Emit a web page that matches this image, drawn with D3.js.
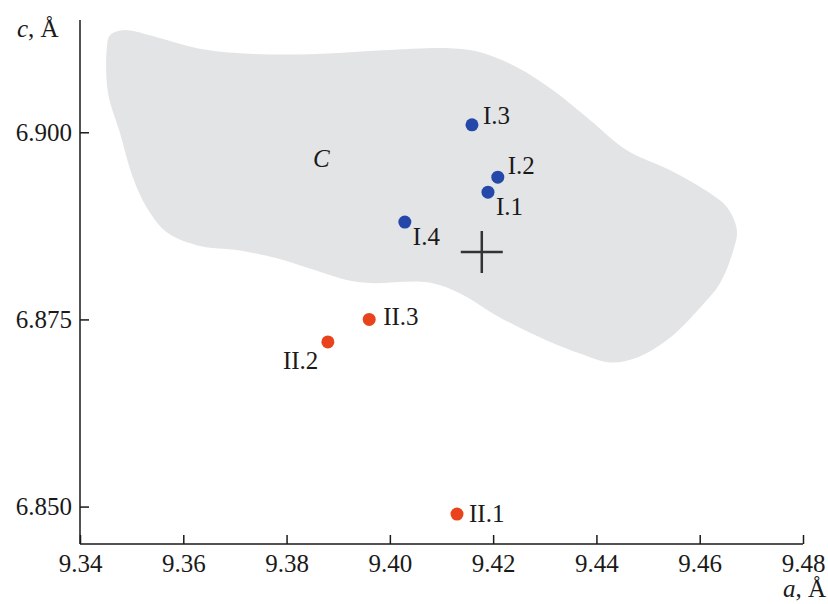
<!DOCTYPE html>
<html><head><meta charset="utf-8">
<script src="https://cdn.jsdelivr.net/npm/d3@7"></script>
<style>
body{margin:0;background:#fff;}
text{font-family:"Liberation Serif","Times New Roman",serif;fill:#1a1a1a;}
</style></head>
<body><svg id="c" width="828" height="604"></svg>
<script>
// ---- data ----
const xTicks = [9.34, 9.36, 9.38, 9.40, 9.42, 9.44, 9.46, 9.48];
const yTicks = [6.850, 6.875, 6.900];
const seriesI = [
  {name: "I.1", a: 9.4190, c: 6.8920},
  {name: "I.2", a: 9.4209, c: 6.8940},
  {name: "I.3", a: 9.4159, c: 6.9010},
  {name: "I.4", a: 9.4029, c: 6.8880}
];
const seriesII = [
  {name: "II.1", a: 9.4130, c: 6.8490},
  {name: "II.2", a: 9.3880, c: 6.8720},
  {name: "II.3", a: 9.3960, c: 6.8750}
];
const crossPoint = {a: 9.4178, c: 6.8840};
const regionC = [
  [9.3458,6.91297],[9.3483,6.91364],[9.3549,6.91270],[9.3627,6.91123],[9.3710,6.91056],
  [9.3845,6.91043],[9.3987,6.91096],[9.4116,6.91123],[9.4175,6.91070],[9.4246,6.90869],
  [9.4316,6.90561],[9.4388,6.90160],[9.4459,6.89759],[9.4543,6.89492],[9.4620,6.89184],
  [9.4653,6.88997],[9.4672,6.88690],[9.4665,6.88422],[9.4639,6.87981],[9.4601,6.87660],
  [9.4543,6.87259],[9.4479,6.86992],[9.4426,6.86925],[9.4368,6.87045],[9.4304,6.87219],
  [9.4213,6.87527],[9.4136,6.87848],[9.4072,6.87995],[9.3942,6.87995],[9.3845,6.88182],
  [9.3781,6.88316],[9.3710,6.88422],[9.3627,6.88489],[9.3568,6.88663],[9.3530,6.88984],
  [9.3503,6.89385],[9.3477,6.90000],[9.3454,6.90535],[9.3452,6.91123]
];
const regionLabel = {name: "C", a: 9.3851, c: 6.8961};

// ---- layout / style ----
const labelOffset = {
  "I.1": [8, 23], "I.2": [10, -3], "I.3": [11, -1], "I.4": [8, 23],
  "II.1": [12, 8], "II.2": [-45, 27], "II.3": [14, 6]
};
const svg = d3.select("#c");
const x = d3.scaleLinear().domain([9.34, 9.48]).range([80, 803]);
const y = d3.scaleLinear().domain([6.845, 6.915]).range([544, 20]);

// region
svg.append("path")
  .attr("d", d3.line().x(d => x(d[0])).y(d => y(d[1])).curve(d3.curveCatmullRomClosed.alpha(0.5))(regionC))
  .attr("fill", "#e3e4e6");

svg.append("text").attr("x", x(regionLabel.a)).attr("y", y(regionLabel.c) + 6)
  .attr("font-size", 25).attr("font-style", "italic").text(regionLabel.name);

// axes
const xAxis = d3.axisBottom(x).tickValues(xTicks).tickSize(-9).tickPadding(13)
  .tickFormat(d3.format(".2f"));
const yAxis = d3.axisLeft(y).tickValues(yTicks).tickSize(-9).tickPadding(8)
  .tickFormat(d3.format(".3f"));
const gx = svg.append("g").attr("transform", "translate(0,544)").call(xAxis);
const gy = svg.append("g").attr("transform", "translate(80,0)").call(yAxis);
[gx, gy].forEach(g => {
  g.select(".domain").attr("stroke", "#1a1a1a").attr("stroke-width", 1.5);
  g.selectAll(".tick line").attr("stroke", "#1a1a1a").attr("stroke-width", 1.5);
  g.selectAll(".tick text").attr("font-size", 25).attr("fill", "#1a1a1a")
    .attr("font-family", "Liberation Serif, serif");
});
gx.select(".domain").attr("d", "M80,0H803");
gy.select(".domain").attr("d", "M0,544V20");
gx.selectAll(".tick text").attr("dy", "0.71em").attr("y", 10);

// axis titles
const ct = svg.append("text").attr("x", 17).attr("y", 37).attr("font-size", 25);
ct.append("tspan").attr("font-style", "italic").text("c");
ct.append("tspan").text(", Å");
const at = svg.append("text").attr("x", 826).attr("y", 597).attr("font-size", 25).attr("text-anchor", "end");
at.append("tspan").attr("font-style", "italic").text("a");
at.append("tspan").text(", Å");

// cross
const cx = x(crossPoint.a), cy = y(crossPoint.c);
svg.append("path").attr("d", `M${cx-21},${cy}H${cx+21}M${cx},${cy-21}V${cy+21}`)
  .attr("stroke", "#333").attr("stroke-width", 2.5).attr("fill", "none");

// points
function drawSeries(data, color) {
  const g = svg.append("g");
  g.selectAll("circle").data(data).join("circle")
    .attr("cx", d => x(d.a)).attr("cy", d => y(d.c)).attr("r", 6.5).attr("fill", color);
  g.selectAll("text").data(data).join("text")
    .attr("x", d => x(d.a) + labelOffset[d.name][0])
    .attr("y", d => y(d.c) + labelOffset[d.name][1])
    .attr("font-size", 25).text(d => d.name);
}
drawSeries(seriesI, "#2547a9");
drawSeries(seriesII, "#e8431c");
</script></body></html>
